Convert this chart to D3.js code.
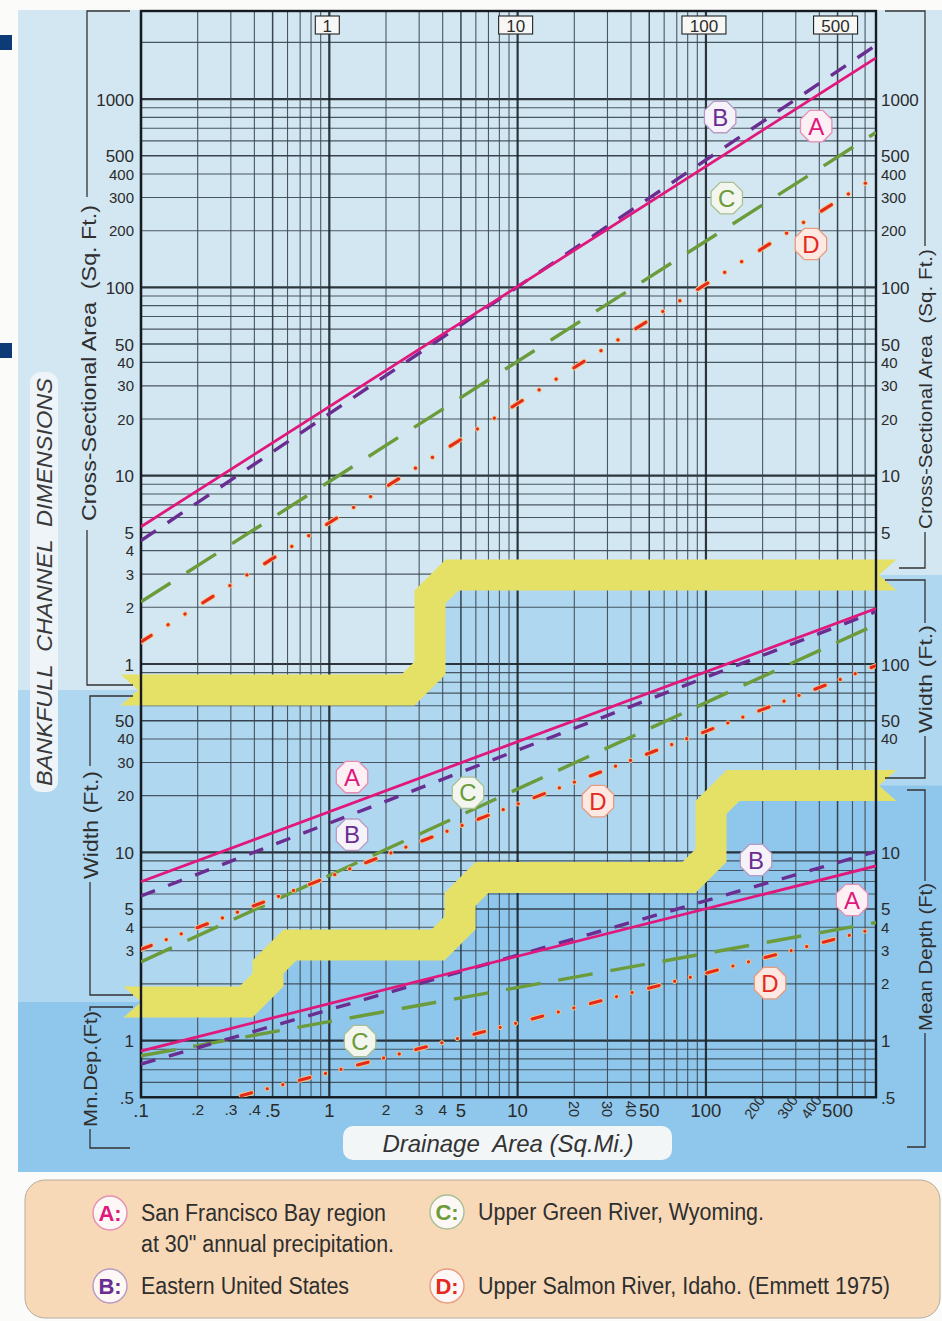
<!DOCTYPE html>
<html>
<head>
<meta charset="utf-8">
<script src="https://cdn.jsdelivr.net/npm/d3@7"></script>
<style>
  html, body { margin: 0; padding: 0; background: #fbfbfa; }
  svg { display: block; font-family: "Liberation Sans", Arial, Helvetica, sans-serif; }
</style>
</head>
<body>
<svg id="chart" width="942" height="1321"></svg>
<script>
// ---------- Regional curves: [drainage area (sq. mi.), dimension] ----------
const crossSectionA = [[0.1, 5.36], [800, 1656]];
const crossSectionB = [[0.1, 4.52], [800, 1932]];
const crossSectionC = [[0.1, 2.14], [800, 665]];
const crossSectionD = [[0.1, 1.31], [800, 388]];

const widthA = [[0.1, 6.98], [800, 197]];
const widthB = [[0.1, 5.86], [800, 190]];
const widthC = [[0.1, 2.62], [800, 162]];
const widthD = [[0.1, 3.05], [800, 98]];

const depthA = [[0.1, 0.88], [800, 8.46]];
const depthB = [[0.1, 0.75], [800, 10.1]];
const depthC = [[0.1, 0.83], [800, 4.24]];
const depthD = [[0.34, 0.51], [800, 3.95]];

// curve letter tags: [letter, drainage area, dimension]
const crossSectionTags = [["B", 119, 803], ["A", 385, 719], ["C", 129, 298], ["D", 361, 170]];
const widthTags = [["A", 1.32, 25.1], ["B", 1.32, 12.4], ["C", 5.45, 20.7], ["D", 26.7, 18.7]];
const depthTags = [["B", 184.5, 9.1], ["A", 597, 5.58], ["C", 1.456, 0.995], ["D", 219, 2.02]];

// tick labels
const areaTicksLeft = [1000, 500, 400, 300, 200, 100, 50, 40, 30, 20, 10, 5, 4, 3, 2, 1];
const widthTicksLeft = [50, 40, 30, 20, 10, 5, 4, 3];
const depthTicksLeft = [1, 0.5];
const areaTicksRight = [1000, 500, 400, 300, 200, 100, 50, 40, 30, 20, 10, 5];
const widthTicksRight = [100, 50, 40];
const depthTicksRight = [10, 5, 4, 3, 2, 1, 0.5];
const xTicks = [0.1, 0.2, 0.3, 0.4, 0.5, 1, 2, 3, 4, 5, 10, 20, 30, 40, 50, 100, 200, 300, 400, 500];
const xTopTicks = [1, 10, 100, 500];

// legend
const legendKeys = ["A", "B", "C", "D"];
const legendLines = [
  ["San Francisco Bay region", "at 30\" annual precipitation."],
  ["Eastern United States"],
  ["Upper Green River, Wyoming."],
  ["Upper Salmon River, Idaho. (Emmett 1975)"]
];

// ---------- styles ----------
const col = { A: "#e0187c", B: "#6a2d91", C: "#6b9b3a", D: "#e42a1e" };
const tagFill = { A: "#fdf0f5", B: "#f6f2fa", C: "#f3f6ef", D: "#fde9e2" };
const tagStroke = { A: "#e58fb2", B: "#b79bc4", C: "#a9bf95", D: "#eb9a7e" };
const zone1 = "#d3e7f3", zone2 = "#b0d7f0", zone3 = "#8fc6eb";
const yellow = "#e5e066";

const svg = d3.select("#chart");
const W = 942, H = 1321;

// ---------- scales: one decade = same pixel length on both axes ----------
const DEC = 188.3;
const AREA_ONE_Y = 664;
const x = d3.scaleLog().domain([0.1, 800]).range([141, 876]);
const yArea = d3.scaleLog().domain([1, 1000]).range([AREA_ONE_Y, AREA_ONE_Y - 3 * DEC]);
const yWidth = d3.scaleLog().domain([10, 100]).range([AREA_ONE_Y + DEC, AREA_ONE_Y]);
const yDepth = d3.scaleLog().domain([1, 10]).range([AREA_ONE_Y + 2 * DEC, AREA_ONE_Y + DEC]);
const plot = { left: x(0.1), right: x(800), top: 11, bottom: yDepth(0.5) };

// ---------- yellow separator bands (centre lines) ----------
function bandLine(xs, xe, levels, risers, k) {
  const pts = [[xs, levels[0]]];
  risers.forEach((r, i) => {
    pts.push([r - k, levels[i]], [r, levels[i] - k], [r, levels[i + 1] + k], [r + k, levels[i + 1]]);
  });
  pts.push([xe, levels[levels.length - 1]]);
  return pts;
}
const band1 = bandLine(120, 897, [690, 575], [430], 22);
const band2 = bandLine(123, 897, [1002, 945, 877.5, 785.5], [268, 460, 711], 22);

// ---------- background ----------
svg.append("rect").attr("width", W).attr("height", H).attr("fill", "#fbfbfa");
svg.append("rect").attr("x", 18).attr("y", 10).attr("width", W - 18).attr("height", 1162).attr("fill", zone3);
const zonePoly = (band) => {
  const rev = band.slice().reverse();
  return [[18, 10], [W, 10], [W, rev[0][1]], ...rev, [18, rev[rev.length - 1][1]]];
};
svg.append("polygon").attr("points", zonePoly(band2).join(" ")).attr("fill", zone2);
svg.append("polygon").attr("points", zonePoly(band1).join(" ")).attr("fill", zone1);

// navy page markers at the left edge
svg.append("rect").attr("x", 0).attr("y", 35).attr("width", 12).attr("height", 15).attr("fill", "#0d3b78");
svg.append("rect").attr("x", 0).attr("y", 343).attr("width", 12).attr("height", 15).attr("fill", "#0d3b78");

// ---------- grid ----------
const grid = svg.append("g");
const hVals = [];
for (let e = -3; e <= 3; e++) for (let k = 1; k <= 9; k++) {
  const v = +(k * Math.pow(10, e)).toPrecision(3);
  const yy = yArea(v);
  if (yy >= plot.top - 0.5 && yy <= plot.bottom + 0.5) hVals.push({ v, k });
}
const vVals = [];
for (let e = -1; e <= 2; e++) for (let k = 1; k <= 9; k++) {
  const v = +(k * Math.pow(10, e)).toPrecision(3);
  if (v <= 800) vVals.push({ v, k });
}
const gw = d => d.k === 1 ? 2.2 : (d.k === 5 ? 1.5 : 1.1);
const gc = d => d.k === 1 ? "#1a2329" : (d.k === 5 ? "#28343d" : "#3b4852");
grid.selectAll("line.h").data(hVals).join("line")
  .attr("x1", plot.left).attr("x2", plot.right)
  .attr("y1", d => yArea(d.v)).attr("y2", d => yArea(d.v))
  .attr("stroke", gc).attr("stroke-width", gw).attr("opacity", 0.9);
grid.selectAll("line.v").data(vVals).join("line")
  .attr("y1", plot.top).attr("y2", plot.bottom)
  .attr("x1", d => x(d.v)).attr("x2", d => x(d.v))
  .attr("stroke", gc).attr("stroke-width", gw).attr("opacity", 0.9);

// ---------- yellow bands ----------
const defs = svg.append("defs");
function drawBand(pts, id) {
  const s = pts[0], e = pts[pts.length - 1], h = 16, n = 18;
  defs.append("clipPath").attr("id", id).append("polygon").attr("points", [
    [s[0], 0], [e[0], 0], [e[0], e[1] - h], [e[0] - n, e[1]], [e[0], e[1] + h], [e[0], H],
    [s[0], H], [s[0], s[1] + h], [s[0] + n, s[1]], [s[0], s[1] - h]
  ].join(" "));
  svg.append("path").attr("d", d3.line()(pts))
    .attr("fill", "none").attr("stroke", yellow).attr("stroke-width", 31)
    .attr("stroke-linejoin", "miter").attr("stroke-linecap", "butt")
    .attr("clip-path", `url(#${id})`);
}
drawBand(band1, "band1clip");
drawBand(band2, "band2clip");

// plot frame
svg.append("rect").attr("x", plot.left).attr("y", plot.top)
  .attr("width", plot.right - plot.left).attr("height", plot.bottom - plot.top)
  .attr("fill", "none").attr("stroke", "#151b20").attr("stroke-width", 2.4);

// ---------- curves ----------
defs.append("clipPath").attr("id", "plotclip").append("rect")
  .attr("x", plot.left).attr("y", plot.top)
  .attr("width", plot.right - plot.left).attr("height", plot.bottom - plot.top);
const curves = svg.append("g").attr("clip-path", "url(#plotclip)");

const panels = [
  { y: yArea, series: { A: crossSectionA, B: crossSectionB, C: crossSectionC, D: crossSectionD },
    dash: { B: "18 14", C: "35 19", D: "12 20 0.1 20 0.1 21" } },
  { y: yWidth, series: { A: widthA, B: widthB, C: widthC, D: widthD },
    dash: { B: "15 14", C: "34 17", D: "11 16 0.1 16 0.1 17" } },
  { y: yDepth, series: { A: depthA, B: depthB, C: depthC, D: depthD },
    dash: { B: "15 14", C: "35 18", D: "11 16 0.1 16 0.1 17" } }
];
panels.forEach(p => {
  const line = d3.line().x(d => x(d[0])).y(d => p.y(d[1]));
  ["C", "D", "B", "A"].forEach(key => {
    const data = p.series[key];
    if (key === "D") {
      curves.append("path").attr("d", line(data)).attr("fill", "none")
        .attr("stroke", "#f4c47e").attr("stroke-width", 5)
        .attr("stroke-dasharray", p.dash.D).attr("stroke-linecap", "round");
      curves.append("path").attr("d", line(data)).attr("fill", "none")
        .attr("stroke", col.D).attr("stroke-width", 3.1)
        .attr("stroke-dasharray", p.dash.D).attr("stroke-linecap", "round");
    } else {
      curves.append("path").attr("d", line(data)).attr("fill", "none")
        .attr("stroke", col[key]).attr("stroke-width", key === "A" ? 2.8 : 3.4)
        .attr("stroke-dasharray", key === "A" ? null : p.dash[key]);
    }
  });
});

// ---------- curve tags ----------
const octagon = r => d3.range(8).map(i => {
  const a = Math.PI / 8 + i * Math.PI / 4;
  return [r * Math.cos(a), r * Math.sin(a)];
});
function drawTags(tags, yScale) {
  tags.forEach(([key, xv, yv]) => {
    const g = svg.append("g").attr("transform", `translate(${x(xv)},${yScale(yv)})`);
    g.append("polygon").attr("points", octagon(17).join(" "))
      .attr("fill", tagFill[key]).attr("stroke", tagStroke[key]).attr("stroke-width", 1.3);
    g.append("text").attr("text-anchor", "middle").attr("y", 8.5)
      .attr("font-size", 24).attr("fill", col[key]).text(key);
  });
}
drawTags(crossSectionTags, yArea);
drawTags(widthTags, yWidth);
drawTags(depthTags, yDepth);

// ---------- tick labels ----------
const fmt = v => v < 1 ? String(v).replace(/^0/, "") : String(v);
const isMajor = v => { const s = fmt(v).replace(".", ""); return s[0] === "1" || s[0] === "5"; };
const labels = svg.append("g").attr("fill", "#2b2b2b");
function sideLabels(vals, yScale, side) {
  vals.forEach(v => {
    labels.append("text")
      .attr("x", side === "left" ? 134 : 881)
      .attr("y", yScale(v) + (isMajor(v) ? 6.5 : 5.5))
      .attr("text-anchor", side === "left" ? "end" : "start")
      .attr("font-size", isMajor(v) ? 17 : 15)
      .text(fmt(v));
  });
}
sideLabels(areaTicksLeft, yArea, "left");
sideLabels(widthTicksLeft, yWidth, "left");
sideLabels(depthTicksLeft, yDepth, "left");
sideLabels(areaTicksRight, yArea, "right");
sideLabels(widthTicksRight, yWidth, "right");
sideLabels(depthTicksRight, yDepth, "right");

xTicks.forEach(v => {
  const px = x(v);
  if (isMajor(v)) {
    labels.append("text").attr("x", px).attr("y", 1117).attr("text-anchor", "middle")
      .attr("font-size", 18.5).text(fmt(v));
  } else if (v < 10) {
    labels.append("text").attr("x", px).attr("y", 1115).attr("text-anchor", "middle")
      .attr("font-size", 15.5).text(fmt(v));
  } else if (v < 100) {
    labels.append("text").attr("transform", `translate(${px - 5.5},1109) rotate(90)`)
      .attr("text-anchor", "middle").attr("font-size", 14.5).text(fmt(v));
  } else {
    labels.append("text").attr("transform", `translate(${px - 4},1110) rotate(-55)`)
      .attr("text-anchor", "middle").attr("font-size", 14.5).text(fmt(v));
  }
});

// boxed labels along the top edge
xTopTicks.forEach(v => {
  const t = fmt(v), bw = 10 * t.length + 14;
  const g = svg.append("g").attr("transform", `translate(${x(v) - 2},25)`);
  g.append("rect").attr("x", -bw / 2).attr("y", -9).attr("width", bw).attr("height", 18)
    .attr("fill", "#f7f7f5").attr("stroke", "#222").attr("stroke-width", 1.1);
  g.append("text").attr("text-anchor", "middle").attr("y", 6.5).attr("font-size", 17)
    .attr("fill", "#2b2b2b").text(t);
});

// ---------- axis titles and brackets ----------
const brackets = svg.append("g").attr("fill", "none").attr("stroke", "#333").attr("stroke-width", 1.3);
[
  "M130,11 H87 V197", "M87,530 V685 H133",
  "M133,696 H90 V766", "M90,882 V995 H133",
  "M133,1007 H90 V1011", "M90,1129 V1148 H130",
  "M885,11 H925 V246", "M925,532 V568 H899",
  "M885,580 H925 V623", "M925,736 V778 H885",
  "M907,790 H925 V881", "M925,1033 V1147 H907"
].forEach(d => brackets.append("path").attr("d", d));

function vtext(cx, cy, size, str, len) {
  const t = svg.append("text").attr("transform", `translate(${cx + size * 0.36},${cy}) rotate(-90)`)
    .attr("text-anchor", "middle").attr("font-size", size).attr("fill", "#2f2f2f")
    .style("white-space", "pre").text(str);
  if (len) t.attr("textLength", len).attr("lengthAdjust", "spacingAndGlyphs");
  return t;
}
vtext(88, 363, 21, "Cross-Sectional Area  (Sq. Ft.)", 316);
vtext(90, 825, 21, "Width (Ft.)", 108);
vtext(90, 1069, 19, "Mn.Dep.(Ft)", 116);
vtext(925, 389, 19, "Cross-Sectional Area  (Sq. Ft.)", 280);
vtext(925, 679, 19, "Width (Ft.)", 108);
vtext(925, 957, 19, "Mean Depth (Ft)", 148);

// main title
svg.append("rect").attr("x", 30).attr("y", 372).attr("width", 28).attr("height", 420).attr("rx", 11)
  .attr("fill", "#eef4f7");
svg.append("text").attr("transform", "translate(52,582) rotate(-90)")
  .attr("text-anchor", "middle").attr("font-size", 22).attr("font-style", "italic")
  .attr("fill", "#3a3a3a").style("white-space", "pre")
  .attr("textLength", 408).attr("lengthAdjust", "spacingAndGlyphs")
  .text("BANKFULL  CHANNEL  DIMENSIONS");

// x-axis title
svg.append("rect").attr("x", 343).attr("y", 1126).attr("width", 329).attr("height", 34).attr("rx", 10)
  .attr("fill", "#f3f6f7");
svg.append("text").attr("x", 508).attr("y", 1152).attr("text-anchor", "middle")
  .attr("font-size", 24).attr("font-style", "italic").attr("fill", "#333")
  .style("white-space", "pre").text("Drainage  Area (Sq.Mi.)");

// ---------- legend ----------
svg.append("rect").attr("x", 25).attr("y", 1180).attr("width", 915).attr("height", 138).attr("rx", 20)
  .attr("fill", "#f7d9b8").attr("stroke", "#b8aca0").attr("stroke-width", 1);
const legendPos = { A: [110, 1213], B: [110, 1286], C: [447, 1212], D: [447, 1286] };
const legendLen = { A: [245, 253], B: [208], C: [286], D: [412] };
legendKeys.forEach((key, i) => {
  const [bx, by] = legendPos[key];
  svg.append("circle").attr("cx", bx).attr("cy", by).attr("r", 17)
    .attr("fill", "#fdf8f6").attr("stroke", tagStroke[key]).attr("stroke-width", 1.4);
  svg.append("text").attr("x", bx).attr("y", by + 8).attr("text-anchor", "middle")
    .attr("font-size", 22).attr("font-weight", "bold").attr("fill", col[key]).text(key + ":");
  legendLines[i].forEach((s, j) => {
    svg.append("text").attr("x", bx + 31).attr("y", by + 8 + j * 31)
      .attr("font-size", 23).attr("fill", "#2e2e2e")
      .attr("textLength", legendLen[key][j]).attr("lengthAdjust", "spacingAndGlyphs")
      .text(s);
  });
});
</script>
</body>
</html>
